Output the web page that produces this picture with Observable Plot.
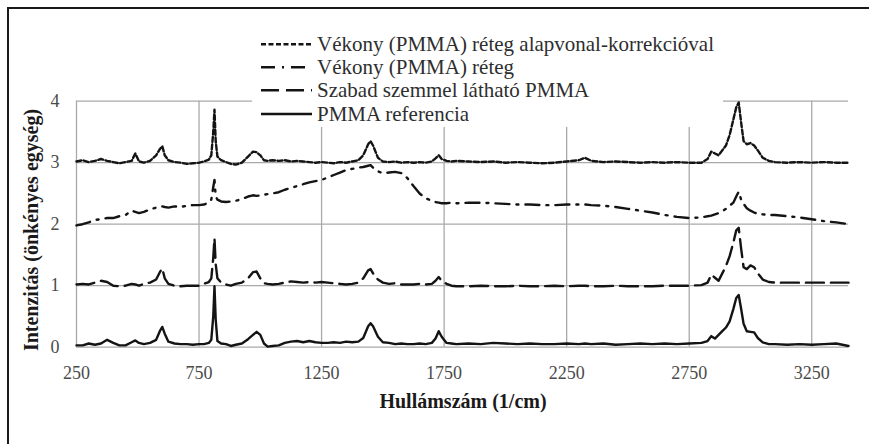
<!DOCTYPE html>
<html>
<head>
<meta charset="utf-8">
<script src="https://cdn.jsdelivr.net/npm/d3@7"></script>
<script src="https://cdn.jsdelivr.net/npm/@observablehq/plot@0.6"></script>
<style>
  html, body { margin: 0; padding: 0; background: #fff; }
  body { width: 869px; height: 444px; overflow: hidden; }
  #wrap { position: relative; width: 869px; height: 444px; font-family: "Liberation Serif", "Times New Roman", serif; }
  #frame { position: absolute; left: 7px; top: 7px; width: 900px; height: 480px; border: 2px solid #1a1a1a; box-sizing: border-box; }
  #chart { position: absolute; left: 0; top: 0; }
  #legend { position: absolute; left: 0; top: 0; }
  .title { position: absolute; font-weight: bold; color: #1a1a1a; white-space: nowrap; font-family: "Liberation Serif", "Times New Roman", serif; }
  #ylab { left: 31px; top: 230px; font-size: 20px; transform: translate(-50%, -50%) rotate(-90deg); }
  #xlab { left: 463px; top: 401px; font-size: 20px; transform: translate(-50%, -50%); }
</style>
</head>
<body>
<div id="wrap">
  <div id="frame"></div>
  <div id="chart"></div>
  <div id="legend"></div>
  <div class="title" id="ylab">Intenzitás (önkényes egység)</div>
  <div class="title" id="xlab">Hullámszám (1/cm)</div>
</div>
<script>
// Raman shift grid (1/cm), denser around the bands
const wavenumber = [
  250, 275, 300, 325, 350, 375, 400, 425, 450, 475, 490, 505, 525, 550, 575, 590, 600, 610, 625, 650,
  675, 700, 725, 750, 770, 790, 800, 808, 813, 818, 825, 840, 860, 880, 900, 925, 950, 970, 985, 1000,
  1015, 1030, 1050, 1075, 1100, 1125, 1150, 1175, 1200, 1225, 1250, 1275, 1300, 1325, 1350, 1375, 1400, 1420, 1440, 1450,
  1460, 1480, 1500, 1525, 1550, 1575, 1600, 1625, 1650, 1675, 1700, 1715, 1728, 1740, 1760, 1780, 1800, 1850, 1900, 1950,
  2000, 2050, 2100, 2150, 2200, 2250, 2300, 2325, 2350, 2400, 2450, 2500, 2550, 2600, 2650, 2700, 2750, 2800, 2825, 2840,
  2855, 2870, 2885, 2900, 2915, 2930, 2942, 2952, 2962, 2972, 2985, 3000, 3015, 3030, 3050, 3075, 3100, 3150, 3200, 3250,
  3300, 3350, 3400
];

// Thin layer, baseline corrected (offset +3)
const korrigalt = [
  3.02, 3.04, 3.01, 3.03, 3.06, 3.03, 3.01, 2.99, 3.01, 3.03, 3.15, 3.02, 3.00, 3.03, 3.12, 3.22, 3.27, 3.12, 3.04, 3.01,
  3.00, 2.98, 2.99, 3.00, 3.02, 3.05, 3.12, 3.50, 3.86, 3.35, 3.10, 3.04, 3.01, 2.98, 2.97, 3.00, 3.10, 3.18, 3.17, 3.12,
  3.04, 3.03, 3.04, 3.03, 3.04, 3.02, 3.03, 3.02, 3.01, 3.00, 3.01, 3.00, 2.99, 3.01, 3.00, 3.02, 3.04, 3.12, 3.30, 3.35,
  3.28, 3.08, 3.02, 3.01, 3.02, 3.00, 3.01, 3.00, 3.01, 3.00, 3.02, 3.07, 3.12, 3.06, 3.03, 3.02, 3.03, 3.02, 3.01, 3.02,
  3.00, 3.01, 3.00, 2.99, 3.00, 3.02, 3.04, 3.08, 3.03, 3.01, 3.02, 3.01, 3.00, 3.01, 3.00, 3.01, 3.00, 3.00, 3.06, 3.18,
  3.15, 3.12, 3.20, 3.28, 3.45, 3.70, 3.90, 3.98, 3.65, 3.35, 3.30, 3.32, 3.28, 3.20, 3.08, 3.03, 3.01, 3.00, 3.01, 3.00,
  3.01, 3.00, 3.00
];

// Thin layer, raw spectrum (offset +2)
const vekony = [
  1.98, 2.00, 2.03, 2.07, 2.08, 2.10, 2.10, 2.13, 2.15, 2.22, 2.20, 2.18, 2.20, 2.24, 2.27, 2.28, 2.29, 2.28, 2.27, 2.29,
  2.28, 2.30, 2.31, 2.31, 2.32, 2.35, 2.40, 2.60, 2.72, 2.45, 2.40, 2.37, 2.36, 2.37, 2.38, 2.41, 2.45, 2.47, 2.46, 2.47,
  2.48, 2.49, 2.50, 2.52, 2.56, 2.59, 2.62, 2.65, 2.68, 2.70, 2.72, 2.76, 2.80, 2.84, 2.88, 2.90, 2.92, 2.93, 2.95, 2.96,
  2.92, 2.86, 2.83, 2.84, 2.85, 2.83, 2.75, 2.62, 2.50, 2.42, 2.38, 2.36, 2.35, 2.34, 2.34, 2.35, 2.34, 2.35, 2.35, 2.34,
  2.33, 2.32, 2.32, 2.31, 2.31, 2.32, 2.32, 2.32, 2.31, 2.30, 2.28, 2.25, 2.22, 2.19, 2.15, 2.12, 2.10, 2.11, 2.13, 2.14,
  2.16, 2.18, 2.21, 2.25, 2.30, 2.35, 2.45, 2.53, 2.40, 2.33, 2.26, 2.22, 2.19, 2.17, 2.16, 2.15, 2.15, 2.13, 2.11, 2.08,
  2.05, 2.03, 2.00
];

// Visible PMMA spot (offset +1)
const szabadSzemmel = [
  1.02, 1.03, 1.02, 1.05, 1.08, 1.06, 1.00, 0.99, 1.00, 1.03, 1.02, 1.00, 1.03, 1.05, 1.10, 1.22, 1.28, 1.12, 1.03, 1.00,
  0.99, 1.00, 1.00, 1.00, 1.03, 1.06, 1.12, 1.45, 1.77, 1.35, 1.12, 1.05, 1.02, 1.00, 1.03, 1.05, 1.12, 1.22, 1.23, 1.12,
  1.04, 1.03, 1.02, 1.03, 1.05, 1.07, 1.06, 1.05, 1.06, 1.05, 1.06, 1.05, 1.04, 1.03, 1.02, 1.03, 1.05, 1.12, 1.25, 1.27,
  1.20, 1.10, 1.05, 1.03, 1.04, 1.02, 1.02, 1.02, 1.03, 1.02, 1.03, 1.08, 1.14, 1.08, 1.03, 1.00, 0.99, 0.99, 1.00, 0.99,
  0.99, 1.00, 0.99, 0.99, 1.00, 0.99, 1.00, 1.00, 0.99, 0.99, 1.00, 0.99, 0.99, 0.99, 1.00, 1.00, 1.00, 1.01, 1.05, 1.18,
  1.13, 1.08, 1.20, 1.32, 1.48, 1.70, 1.90, 1.94, 1.60, 1.30, 1.27, 1.33, 1.30, 1.20, 1.10, 1.06, 1.05, 1.05, 1.05, 1.05,
  1.05, 1.05, 1.05
];

// PMMA reference spectrum (no offset)
const referencia = [
  0.03, 0.03, 0.06, 0.04, 0.06, 0.12, 0.07, 0.03, 0.03, 0.08, 0.11, 0.07, 0.05, 0.07, 0.12, 0.26, 0.33, 0.22, 0.09, 0.06,
  0.05, 0.05, 0.04, 0.05, 0.05, 0.07, 0.12, 0.50, 0.99, 0.45, 0.10, 0.06, 0.05, 0.02, 0.04, 0.06, 0.13, 0.20, 0.25, 0.20,
  0.06, 0.01, 0.02, 0.03, 0.07, 0.09, 0.10, 0.08, 0.10, 0.08, 0.07, 0.07, 0.08, 0.07, 0.09, 0.08, 0.09, 0.15, 0.34, 0.39,
  0.34, 0.17, 0.08, 0.07, 0.05, 0.06, 0.05, 0.05, 0.06, 0.05, 0.07, 0.14, 0.26, 0.17, 0.07, 0.06, 0.05, 0.06, 0.05, 0.07,
  0.06, 0.05, 0.06, 0.05, 0.05, 0.06, 0.05, 0.06, 0.05, 0.06, 0.04, 0.05, 0.06, 0.05, 0.06, 0.05, 0.06, 0.07, 0.10, 0.18,
  0.14, 0.20, 0.26, 0.32, 0.42, 0.62, 0.80, 0.85, 0.62, 0.38, 0.26, 0.25, 0.24, 0.15, 0.08, 0.05, 0.05, 0.04, 0.05, 0.04,
  0.05, 0.06, 0.02
];

const seriesNames = [
  "Vékony (PMMA) réteg alapvonal-korrekcióval",
  "Vékony (PMMA) réteg",
  "Szabad szemmel látható PMMA",
  "PMMA referencia"
];
const seriesValues = [korrigalt, vekony, szabadSzemmel, referencia];
const seriesDash = ["5,2.5", "14,7,2,7", "18,7", null];

const xTicks = [250, 750, 1250, 1750, 2250, 2750, 3250];
const yTicks = [0, 1, 2, 3, 4];

const ink = "#141414";
const gridColor = "#a9a9a9";
const serif = "'Liberation Serif', 'Times New Roman', serif";

const rows = seriesValues.map((vals, i) =>
  wavenumber.map((w, j) => ({ series: seriesNames[i], x: w, y: vals[j] }))
);

const chart = Plot.plot({
  width: 869,
  height: 444,
  marginLeft: 76,
  marginRight: 21,
  marginTop: 100.7,
  marginBottom: 97.3,
  style: { fontFamily: serif, background: "transparent" },
  x: { domain: [250, 3400] },
  y: { domain: [0, 4] },
  marks: [
    Plot.ruleX(xTicks, { stroke: gridColor, strokeWidth: 1.3 }),
    Plot.ruleY(yTicks, { stroke: gridColor, strokeWidth: 1.3 }),
    Plot.axisX({ ticks: xTicks, tickSize: 0, tickPadding: 19, fontSize: 18, fontFamily: serif, fill: "#4a4a4a", label: null, tickFormat: d => `${d}` }),
    Plot.axisY({ ticks: yTicks, tickSize: 0, tickPadding: 17, fontSize: 18, fontFamily: serif, fill: "#4a4a4a", label: null, tickFormat: d => `${d}` }),
    ...rows.map((data, i) =>
      Plot.line(data, {
        x: "x",
        y: "y",
        stroke: ink,
        strokeWidth: 2.4,
        strokeLinejoin: "round",
        strokeDasharray: seriesDash[i] ?? undefined
      })
    )
  ]
});
document.getElementById("chart").appendChild(chart);

// Legend box sits on top of the plot area, hiding the grid behind it
const leg = d3.select("#legend").append("svg")
  .attr("width", 869).attr("height", 444);
leg.append("rect")
  .attr("x", 252).attr("y", 12).attr("width", 471).attr("height", 115)
  .attr("fill", "#fff");
const rowY = [44.3, 67.3, 90.3, 114];
seriesNames.forEach((name, i) => {
  leg.append("line")
    .attr("x1", 261).attr("x2", 312)
    .attr("y1", rowY[i]).attr("y2", rowY[i])
    .attr("stroke", ink).attr("stroke-width", 2.4)
    .attr("stroke-dasharray", seriesDash[i]);
  leg.append("text")
    .attr("transform", `translate(317,${rowY[i] + 6.5}) scale(1.05,1)`)
    .attr("font-family", serif)
    .attr("font-size", 20)
    .attr("fill", "#2e2e2e")
    .text(name);
});
</script>
</body>
</html>
